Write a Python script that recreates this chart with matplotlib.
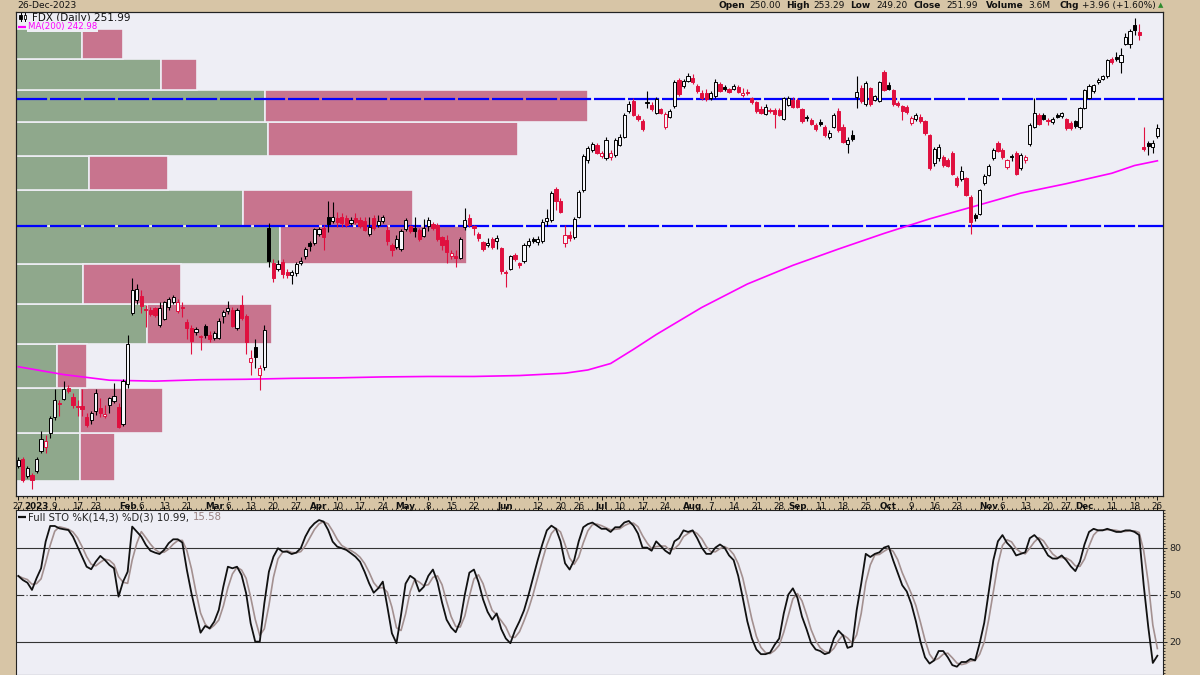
import numpy as np
import pandas as pd
import matplotlib
matplotlib.use('Agg')
import matplotlib.pyplot as plt
from matplotlib.patches import Rectangle
from matplotlib.ticker import FixedLocator, NullFormatter

# trading days shown (NYSE holidays removed)
holidays = ['2023-01-02', '2023-01-16', '2023-02-20', '2023-04-07', '2023-05-29',
            '2023-06-19', '2023-07-04', '2023-09-04', '2023-11-23', '2023-12-25']
days = pd.bdate_range('2022-12-27', '2023-12-26', freq='C', holidays=holidays)

opens = [172.4, 173.6, 170.4, 170.6, 171.4, 175.3, 176.0, 178.9, 182.0, 184.9,
         185.9, 188.2, 186.3, 184.3, 184.3, 182.0, 181.5, 183.3, 183.9, 182.3,
         184.6, 185.4, 184.2, 180.6, 189.0, 204.7, 207.8, 208.6, 205.6, 205.5,
         205.9, 202.0, 203.3, 206.0, 207.2, 205.2, 206.0, 202.6, 201.3, 200.3,
         199.4, 201.8, 199.8, 199.1, 199.1, 204.0, 205.1, 205.5, 201.3, 206.6,
         204.0, 193.7, 197.0, 190.9, 192.6, 225.3, 216.5, 215.0, 216.9, 214.4,
         213.7, 214.1, 216.5, 218.2, 221.4, 221.4, 223.8, 225.4, 228.2, 227.1,
         227.7, 228.1, 227.7, 226.5, 227.7, 227.3, 227.1, 223.8, 227.7, 226.1,
         227.1, 224.8, 221.1, 220.6, 220.0, 224.9, 225.7, 225.2, 224.8, 223.3,
         225.8, 226.3, 226.1, 223.0, 222.3, 218.2, 218.2, 217.8, 225.5, 227.7,
         225.7, 223.7, 221.7, 220.9, 222.5, 222.0, 220.2, 214.4, 215.1, 218.5,
         216.5, 217.0, 221.1, 222.4, 221.8, 222.1, 227.0, 227.3, 235.3, 232.1,
         221.5, 223.5, 223.0, 228.2, 235.0, 243.2, 246.0, 247.4, 244.3, 243.7,
         244.0, 244.6, 247.4, 249.6, 257.1, 259.8, 255.6, 254.1, 259.3, 258.8,
         256.5, 257.5, 252.3, 255.4, 258.4, 266.1, 264.3, 265.9, 266.6, 264.3,
         262.4, 262.2, 260.7, 261.3, 264.9, 263.9, 263.3, 263.3, 263.9, 261.7,
         262.6, 260.7, 259.5, 257.6, 256.2, 257.2, 257.3, 257.3, 254.8, 258.8,
         260.2, 260.2, 257.6, 255.0, 254.4, 253.0, 253.9, 252.5, 249.6, 252.5,
         257.1, 252.5, 247.7, 250.2, 261.0, 263.6, 258.9, 263.6, 260.3, 259.9,
         268.6, 264.6, 263.1, 259.3, 258.4, 258.3, 253.6, 254.6, 255.4, 254.1,
         250.1, 242.4, 243.8, 244.0, 243.3, 245.0, 238.2, 238.0, 238.2, 233.3,
         228.6, 228.9, 236.9, 239.2, 243.8, 247.8, 246.0, 241.3, 244.2, 245.2,
         241.0, 243.2, 247.5, 252.5, 255.8, 255.8, 254.2, 253.8, 255.9, 255.5,
         254.6, 253.6, 254.1, 252.4, 257.8, 260.9, 262.7, 265.4, 266.5, 267.2,
         272.6, 273.1, 271.6, 277.2, 277.2, 283.1, 281.0, 246.8, 247.9, 246.9,
         250.00]
highs = [174.0, 174.0, 172.4, 171.0, 174.0, 179.3, 178.5, 182.3, 187.9, 185.7,
         189.6, 188.8, 187.0, 185.7, 187.9, 183.0, 183.3, 187.9, 186.0, 184.5,
         186.3, 189.3, 185.0, 190.0, 199.6, 212.9, 211.6, 210.1, 206.6, 206.0,
         206.2, 207.3, 207.6, 208.5, 209.0, 208.0, 207.3, 203.4, 202.0, 201.5,
         199.8, 202.3, 200.5, 200.6, 203.5, 205.5, 207.4, 206.0, 205.8, 208.9,
         204.5, 196.4, 198.9, 193.0, 202.0, 226.5, 217.5, 217.4, 217.5, 215.0,
         214.8, 216.8, 218.0, 220.5, 222.0, 225.3, 225.5, 226.0, 232.2, 232.0,
         229.4, 229.0, 228.5, 228.0, 229.0, 228.0, 228.0, 228.0, 228.5, 228.5,
         228.6, 226.1, 221.5, 223.5, 225.0, 227.8, 226.0, 228.1, 225.2, 227.5,
         228.0, 226.8, 226.5, 223.3, 223.6, 219.8, 219.8, 223.0, 230.4, 228.8,
         226.1, 224.2, 222.0, 222.7, 223.0, 223.5, 220.5, 214.8, 218.6, 219.0,
         216.9, 221.5, 222.8, 223.0, 223.2, 227.5, 230.1, 234.8, 236.0, 233.0,
         226.1, 224.5, 228.0, 235.0, 244.8, 247.0, 248.2, 248.0, 245.8, 249.5,
         246.0, 249.3, 250.5, 256.5, 259.8, 260.8, 256.2, 254.8, 262.7, 259.5,
         261.0, 258.0, 256.8, 257.5, 266.0, 266.8, 266.5, 268.3, 267.8, 264.8,
         263.0, 263.5, 262.8, 266.5, 265.5, 264.5, 263.8, 264.8, 264.5, 263.8,
         263.5, 261.2, 260.0, 258.5, 259.0, 258.0, 257.8, 257.8, 261.2, 261.5,
         261.0, 260.8, 258.0, 255.8, 255.0, 253.5, 254.6, 253.0, 251.5, 256.5,
         257.8, 253.2, 249.5, 251.5, 267.2, 264.5, 265.8, 264.0, 261.8, 265.8,
         269.1, 265.5, 263.5, 259.8, 258.8, 258.8, 255.5, 256.3, 256.0, 254.5,
         250.5, 246.8, 247.5, 244.5, 243.8, 245.6, 238.8, 241.5, 238.6, 233.8,
         229.2, 235.5, 239.3, 242.0, 246.4, 248.5, 246.5, 243.6, 244.8, 245.8,
         245.0, 244.5, 253.5, 260.9, 256.3, 256.3, 255.0, 255.3, 256.5, 256.8,
         255.0, 254.0, 254.5, 258.2, 263.5, 264.8, 265.0, 266.6, 267.6, 272.5,
         273.0, 274.5, 276.0, 280.5, 282.0, 285.5, 283.5, 252.5, 248.5, 248.6,
         253.29]
lows = [172.0, 169.3, 170.0, 168.0, 171.0, 174.9, 174.8, 177.8, 181.5, 182.2,
        185.6, 187.0, 184.0, 182.2, 182.4, 180.0, 180.6, 182.6, 182.1, 181.8,
        183.0, 185.0, 179.8, 180.3, 188.2, 204.3, 206.7, 204.7, 201.6, 204.0,
        203.8, 201.6, 203.0, 205.5, 206.8, 204.8, 203.9, 198.7, 195.4, 199.8,
        196.4, 199.0, 198.2, 198.6, 198.8, 202.5, 204.5, 201.5, 200.8, 203.0,
        195.4, 190.9, 192.4, 187.8, 192.0, 215.5, 212.1, 214.6, 213.0, 213.0,
        211.5, 213.5, 216.0, 217.5, 219.5, 221.0, 223.3, 219.8, 224.2, 226.5,
        225.6, 225.6, 225.5, 226.0, 226.2, 225.2, 224.5, 223.3, 224.8, 225.5,
        226.5, 221.1, 218.2, 220.0, 219.5, 224.5, 224.0, 223.0, 222.0, 223.0,
        224.5, 224.8, 222.0, 219.8, 216.5, 217.5, 215.7, 217.5, 224.8, 225.5,
        223.6, 222.0, 219.5, 220.5, 220.0, 220.0, 214.0, 210.9, 214.8, 217.0,
        215.3, 216.5, 220.5, 221.5, 221.0, 221.5, 225.8, 226.8, 230.0, 229.0,
        220.6, 222.0, 222.5, 227.8, 234.5, 242.5, 245.5, 244.8, 243.8, 243.3,
        243.2, 244.0, 247.0, 249.2, 256.5, 255.5, 254.0, 251.2, 257.8, 257.0,
        256.0, 256.0, 251.8, 255.0, 258.0, 261.5, 263.8, 265.5, 265.0, 262.2,
        260.2, 260.0, 260.3, 260.8, 262.5, 262.8, 262.2, 263.0, 262.2, 261.2,
        261.8, 259.0, 256.5, 256.0, 255.8, 256.5, 252.0, 255.5, 254.3, 258.5,
        257.8, 257.8, 253.5, 254.0, 253.0, 251.2, 252.8, 249.6, 249.0, 252.0,
        251.0, 247.8, 245.0, 248.5, 257.8, 259.2, 258.5, 258.5, 259.8, 259.5,
        262.8, 263.0, 258.5, 258.2, 254.4, 256.2, 253.0, 254.2, 253.6, 250.2,
        240.6, 241.5, 243.0, 241.2, 241.2, 239.0, 236.0, 237.5, 233.5, 223.8,
        227.0, 228.5, 236.5, 238.8, 243.2, 245.3, 243.5, 240.8, 243.0, 239.0,
        240.5, 242.5, 247.0, 252.0, 253.0, 254.3, 253.0, 253.3, 255.0, 255.0,
        251.6, 251.5, 252.0, 251.8, 257.5, 260.5, 262.2, 265.0, 266.0, 266.8,
        271.0, 272.0, 268.2, 276.8, 276.0, 280.0, 278.5, 245.8, 244.6, 245.0,
        249.20]
closes = [173.4, 169.6, 172.0, 169.7, 173.7, 177.6, 177.3, 181.9, 185.6, 184.7,
          187.9, 187.5, 184.5, 184.1, 183.8, 180.4, 183.0, 187.0, 182.9, 182.8,
          186.0, 186.4, 180.1, 189.6, 197.6, 210.1, 210.3, 206.3, 205.4, 204.5,
          204.3, 205.9, 207.2, 208.0, 208.5, 207.3, 205.9, 201.3, 198.3, 201.1,
          199.2, 199.8, 198.7, 200.2, 202.8, 204.9, 205.9, 201.8, 205.3, 203.6,
          198.1, 194.5, 194.8, 192.4, 200.9, 217.0, 212.9, 216.3, 213.8, 213.6,
          214.3, 216.3, 217.0, 219.9, 220.8, 224.9, 225.1, 223.0, 226.4, 228.2,
          226.8, 226.6, 226.1, 227.4, 226.8, 225.8, 224.8, 225.6, 225.2, 227.0,
          228.2, 221.9, 219.8, 222.5, 224.4, 227.2, 224.5, 224.6, 222.5, 225.4,
          227.3, 225.2, 222.6, 221.1, 219.2, 219.0, 217.8, 222.5, 227.2, 226.1,
          225.2, 222.7, 220.0, 221.5, 220.5, 222.7, 214.6, 214.2, 218.2, 217.5,
          216.1, 221.1, 222.0, 222.1, 222.6, 226.9, 227.8, 234.2, 232.3, 229.5,
          223.6, 222.8, 227.5, 234.5, 244.3, 246.5, 247.7, 245.1, 245.0, 248.8,
          245.1, 248.8, 249.6, 255.9, 259.0, 255.9, 254.6, 251.8, 259.5, 257.5,
          260.5, 256.5, 256.1, 257.0, 265.4, 262.1, 265.9, 267.3, 265.4, 262.7,
          260.7, 260.5, 262.2, 265.4, 262.9, 263.3, 262.6, 264.3, 262.6, 262.4,
          262.2, 259.5, 256.9, 256.4, 258.2, 257.0, 256.2, 255.9, 260.7, 260.9,
          258.3, 258.2, 254.0, 254.9, 253.4, 251.8, 253.3, 250.2, 250.8, 255.9,
          251.6, 248.3, 248.8, 249.0, 262.5, 259.9, 265.2, 258.9, 261.3, 265.4,
          263.1, 263.4, 258.9, 258.6, 257.1, 256.7, 255.1, 255.8, 254.1, 250.7,
          241.1, 246.2, 246.9, 241.8, 241.6, 239.4, 236.4, 240.2, 233.9, 226.7,
          227.9, 235.0, 238.8, 241.6, 246.0, 245.8, 244.0, 243.2, 244.0, 239.4,
          244.5, 244.0, 253.0, 256.4, 253.4, 254.8, 254.1, 254.8, 255.4, 256.3,
          252.2, 252.1, 252.7, 257.8, 263.1, 264.4, 264.6, 266.2, 267.2, 272.1,
          271.6, 272.4, 273.6, 279.4, 281.3, 281.5, 280.0, 246.2, 247.1, 248.03,
          251.99]

# 200-day moving average
ma_idx = [0, 10, 20, 30, 40, 50, 60, 70, 80, 90, 100, 110, 120, 125, 130, 135,
          140, 150, 160, 170, 180, 190, 200, 210, 220, 230, 240, 245, 250]
ma_vals = [192.7, 191.0, 189.8, 189.6, 189.9, 190.0, 190.2, 190.3, 190.5, 190.6,
           190.6, 190.8, 191.3, 192.0, 193.4, 196.5, 199.8, 206.0, 211.5, 216.0,
           220.0, 223.9, 227.6, 230.9, 234.3, 236.8, 239.6, 241.7, 242.98]

# volume by price zones (millions of shares)
vbp_edges = [169.5, 178.9, 188.2, 197.6, 206.9, 216.3, 225.7, 235.0, 244.4, 253.7,
             263.1, 272.5, 281.8]
vbp_up = [6.4, 6.4, 4.1, 13.1, 6.7, 26.4, 22.7, 7.3, 25.2, 24.9, 14.5, 6.6]
vbp_down = [3.5, 8.3, 3.0, 12.5, 9.8, 18.7, 17.0, 7.9, 25.0, 32.3, 3.6, 4.1]

support_levels = [225.8, 260.6]

# Full stochastic %K(14,3)
sto_k = [61.9, 59.3, 57.6, 53.0, 60.4, 66.8, 83.8, 93.8, 93.8, 92.3,
         91.7, 91.2, 87.0, 80.6, 74.2, 67.8, 66.2, 71.0, 74.7, 72.1,
         68.9, 66.8, 48.7, 58.3, 64.6, 93.4, 90.2, 87.0, 81.7, 78.0,
         76.8, 75.9, 78.5, 82.8, 85.3, 85.3, 83.2, 65.7, 50.9, 38.1,
         25.7, 30.0, 28.5, 32.7, 40.2, 55.1, 67.8, 66.8, 67.8, 62.5,
         50.9, 31.7, 20.0, 20.0, 44.5, 64.6, 74.2, 79.6, 77.4, 77.4,
         75.9, 76.8, 79.6, 87.0, 92.3, 95.5, 97.6, 96.6, 91.3, 83.8,
         80.6, 79.6, 78.5, 76.4, 74.2, 71.0, 64.6, 57.2, 51.2, 54.0,
         58.3, 42.3, 25.3, 19.0, 37.0, 57.0, 62.0, 60.0, 52.0, 55.0,
         62.0, 66.0, 58.0, 45.0, 34.0, 29.0, 26.0, 33.0, 50.0, 64.0,
         66.0, 58.0, 47.0, 39.0, 34.0, 38.0, 28.0, 22.0, 19.0, 27.0,
         33.0, 40.0, 50.0, 61.0, 72.0, 82.0, 91.0, 94.0, 92.0, 84.0,
         70.0, 66.0, 72.0, 84.0, 93.0, 95.0, 96.0, 94.0, 92.0, 92.0,
         90.0, 93.0, 93.0, 96.0, 97.0, 94.0, 89.0, 80.0, 80.0, 78.0,
         84.0, 81.0, 78.0, 76.0, 84.0, 86.0, 91.0, 90.0, 91.0, 86.0,
         80.0, 76.0, 76.0, 80.0, 82.0, 80.0, 75.0, 72.0, 62.0, 48.0,
         33.0, 22.0, 15.0, 12.0, 12.0, 13.0, 18.0, 22.0, 38.0, 50.0,
         54.0, 48.0, 36.0, 28.0, 19.0, 15.0, 14.0, 12.0, 13.0, 22.0,
         27.0, 24.0, 16.0, 17.0, 40.0, 57.0, 76.0, 74.0, 76.0, 77.0,
         80.0, 81.0, 72.0, 64.0, 56.0, 52.0, 44.0, 33.0, 20.0, 10.0,
         6.0, 8.0, 14.0, 14.0, 10.0, 5.0, 4.0, 7.0, 7.0, 9.0,
         8.0, 19.0, 32.0, 52.0, 72.0, 84.0, 88.0, 83.0, 80.0, 75.0,
         76.0, 77.0, 86.0, 88.0, 85.0, 80.0, 75.0, 73.0, 73.0, 75.0,
         72.0, 68.0, 65.0, 71.0, 82.0, 90.0, 92.0, 91.0, 91.0, 92.0,
         91.0, 90.0, 90.0, 91.0, 91.0, 90.0, 88.0, 56.0, 29.35, 6.4,
         10.99]

tick_dates = ['2022-12-27', '2023-01-03', '2023-01-09', '2023-01-17', '2023-01-23',
              '2023-02-01', '2023-02-06', '2023-02-13', '2023-02-21', '2023-03-01',
              '2023-03-06', '2023-03-13', '2023-03-20', '2023-03-27', '2023-04-03',
              '2023-04-10', '2023-04-17', '2023-04-24', '2023-05-01', '2023-05-08',
              '2023-05-15', '2023-05-22', '2023-06-01', '2023-06-12', '2023-06-20',
              '2023-06-26', '2023-07-03', '2023-07-10', '2023-07-17', '2023-07-24',
              '2023-08-01', '2023-08-07', '2023-08-14', '2023-08-21', '2023-08-28',
              '2023-09-01', '2023-09-11', '2023-09-18', '2023-09-25', '2023-10-02',
              '2023-10-09', '2023-10-16', '2023-10-23', '2023-11-01', '2023-11-06',
              '2023-11-13', '2023-11-20', '2023-11-27', '2023-12-01', '2023-12-11',
              '2023-12-18', '2023-12-26']
tick_labels = ['27', '2023', '9', '17', '23', 'Feb', '6', '13', '21', 'Mar',
               '6', '13', '20', '27', 'Apr', '10', '17', '24', 'May', '8',
               '15', '22', 'Jun', '12', '20', '26', 'Jul', '10', '17', '24',
               'Aug', '7', '14', '21', '28', 'Sep', '11', '18', '25', 'Oct',
               '9', '16', '23', 'Nov', '6', '13', '20', '27', 'Dec', '11',
               '18', '26']

# ---- colours ----
TAN = '#d7c5a6'
BG = '#eeeef5'
RED = '#e0103f'
GREEN_V = '#8fa88c'
RED_V = '#c8748e'

W, H = 1200, 675
fig = plt.figure(figsize=(12, 6.75), dpi=100, facecolor=TAN)

def box(x0, y0, x1, y1):
    return [x0 / W, 1 - y1 / H, (x1 - x0) / W, (y1 - y0) / H]

ax_v = fig.add_axes(box(15.7, 12.3, 1163.3, 496))
ax = ax_v.twiny()
ax.set_zorder(ax_v.get_zorder() + 1)
ax.patch.set_visible(False)
ax_v.set_facecolor(BG)

o = np.array(opens); h = np.array(highs); l = np.array(lows); c = np.array(closes)
x = np.arange(len(c))
prev = np.concatenate([[o[0]], c[:-1]])
edge = np.where(c >= prev, 'black', RED)
fill = np.where(c < o, edge, '#f7f7fb')

ax.set_yscale('log')
ax_v.set_yscale('log')

# volume by price
edges = np.array(vbp_edges)
ax_v.barh(edges[:-1], vbp_up, height=np.diff(edges), align='edge', left=0,
          color=GREEN_V, edgecolor=BG, linewidth=1.2)
ax_v.barh(edges[:-1], vbp_down, height=np.diff(edges), align='edge', left=vbp_up,
          color=RED_V, edgecolor=BG, linewidth=1.2)
ax_v.set_xlim(0, 114.76)

for lvl in support_levels:
    ax.axhline(lvl, color='#0000ff', lw=1.6, ls=(0, (14, 1.3)), zorder=1)

ax.plot(ma_idx, ma_vals, color='#ff00ff', lw=1.2, zorder=2)

ax.vlines(x, l, h, colors=edge, lw=0.8, zorder=3)
body = np.maximum(np.abs(c - o), 0.3)
ax.bar(x, body, bottom=np.minimum(o, c), width=0.7, color=fill,
       edgecolor=edge, linewidth=0.7, zorder=4)

ax.set_xlim(-0.57, 251.3)
ylo, yhi = 166.6, 287.2
ax.set_ylim(ylo, yhi)
ax_v.set_ylim(ylo, yhi)

# axes cosmetics
for a in (ax, ax_v):
    for s in a.spines.values():
        s.set_color('#222222')
        s.set_linewidth(0.8)
ax_v.tick_params(left=False, labelleft=False, bottom=False, labelbottom=False,
                 right=False, which='both')
ax_v.yaxis.set_major_locator(FixedLocator([]))
ax_v.yaxis.set_minor_locator(FixedLocator([]))
ax_v.set_xticks([])

ax.yaxis.tick_right()
yt = list(range(170, 290, 5))
ax.yaxis.set_major_locator(FixedLocator(yt))
ax.yaxis.set_major_formatter(plt.FixedFormatter([str(v) for v in yt]))
ax.yaxis.set_minor_locator(FixedLocator(list(range(167, 288))))
ax.yaxis.set_minor_formatter(NullFormatter())
ax.tick_params(axis='y', which='major', direction='out', length=3, width=0.7,
               pad=1.5, labelsize=6.8, colors='#222222')
ax.tick_params(axis='y', which='minor', direction='out', length=1.5, width=0.6)

tick_idx = [days.get_loc(pd.Timestamp(d)) for d in tick_dates]
ax.xaxis.set_ticks_position('bottom')
ax.set_xticks(tick_idx)
ax.set_xticklabels(tick_labels)
ax.xaxis.set_minor_locator(FixedLocator(list(x)))
ax.tick_params(axis='x', which='major', direction='out', length=3, width=0.7,
               pad=1.0, labelsize=6.3, colors='#111111')
ax.tick_params(axis='x', which='minor', direction='out', length=1.5, width=0.5)
for t in ax.get_xticklabels():
    if not t.get_text().isdigit() or t.get_text() == '2023':
        t.set_fontweight('bold')

# legend in main panel (small candle icon, symbol line, MA line)
def afrac(px, py):
    return (px - 15.7) / 1147.6, 1 - (py - 12.3) / 483.7

for cx, filled in ((20.5, True), (25.0, False)):
    fx0, fy0 = afrac(cx, 13.0)
    _, fy1 = afrac(cx, 21.0)
    ax.plot([fx0, fx0], [fy1, fy0], transform=ax.transAxes, color='black', lw=0.7)
    bx, by = afrac(cx - 1.3, 19.2)
    ax.add_patch(Rectangle((bx, by), 2.6 / 1147.6, 4.6 / 483.7, transform=ax.transAxes,
                           facecolor='black' if filled else 'white', edgecolor='black',
                           lw=0.6, zorder=6))
ax.text(0.014, 0.989, f'FDX (Daily) {closes[-1]:.2f}', transform=ax.transAxes,
        fontsize=7.5, va='center', ha='left', color='#111111')
ax.plot([0.0022, 0.0092], [0.9705, 0.9705], transform=ax.transAxes, color='#ff00ff',
        lw=1.6, solid_capstyle='butt')
ax.text(0.011, 0.9705, f'MA(200) {ma_vals[-1]:.2f}', transform=ax.transAxes,
        fontsize=6.2, va='center', ha='left', color='#ff00ff',
        bbox=dict(facecolor=BG, edgecolor='none', pad=0.6), zorder=7)

# stochastic panel
k = pd.Series(sto_k)
d = k.rolling(3, min_periods=1).mean()
ax2 = fig.add_axes(box(15.7, 510, 1163.3, 675))
ax2.set_facecolor(BG)
for lvl, ls in ((80, '-'), (50, (0, (7, 2, 1, 2))), (20, '-')):
    ax2.axhline(lvl, color='#333333', lw=0.8, ls=ls, zorder=1)
ax2.plot(x, d, color='#a39090', lw=1.2, zorder=2)
ax2.plot(x, k, color='#111111', lw=1.3, zorder=3)
ax2.set_xlim(-0.57, 251.3)
ax2.set_ylim(-1.3, 104.0)
for s in ax2.spines.values():
    s.set_color('#222222')
    s.set_linewidth(0.8)
ax2.yaxis.tick_right()
ax2.set_yticks([20, 50, 80])
ax2.yaxis.set_minor_locator(FixedLocator(list(range(0, 105, 2))))
ax2.tick_params(axis='y', which='major', direction='out', length=3, width=0.7,
                pad=1.5, labelsize=6.8, colors='#222222')
ax2.tick_params(axis='y', which='minor', direction='out', length=1.5, width=0.5)
ax2.xaxis.set_ticks_position('top')
ax2.set_xticks(tick_idx)
ax2.set_xticklabels([])
ax2.xaxis.set_minor_locator(FixedLocator(list(x)))
ax2.tick_params(axis='x', which='major', direction='out', length=3, width=0.7)
ax2.tick_params(axis='x', which='minor', direction='out', length=1.5, width=0.5)

ax2.plot([0.0022, 0.0092], [0.955, 0.955], transform=ax2.transAxes, color='#111111',
         lw=1.6, solid_capstyle='butt')
t1 = ax2.text(0.011, 0.955, 'Full STO %K(14,3) %D(3) ' + f'{k.iloc[-1]:.2f}, ',
              transform=ax2.transAxes, fontsize=7.3, va='center', ha='left', color='#222222')
ax2.annotate(f'{d.iloc[-1]:.2f}', xycoords=t1, xy=(1, 0.5), va='center', ha='left',
             fontsize=7.3, color='#9a8282')

# header
fig.text(17 / W, 1 - 5.5 / H, days[-1].strftime('%d-%b-%Y'), fontsize=6.6,
         va='center', ha='left', color='#111111')
chg = closes[-1] - closes[-2]
pieces = [(718, 'Open', True), (749, f'{opens[-1]:.2f}', False),
          (786, 'High', True), (813, f'{highs[-1]:.2f}', False),
          (850, 'Low', True), (876, f'{lows[-1]:.2f}', False),
          (914, 'Close', True), (946, f'{closes[-1]:.2f}', False),
          (986, 'Volume', True), (1028, '3.6M', False),
          (1059, 'Chg', True), (1082, f'{chg:+.2f} ({chg / closes[-2] * 100:+.2f}%)', False)]
for px, txt, bold in pieces:
    fig.text(px / W, 1 - 5.5 / H, txt, fontsize=6.5, va='center', ha='left',
             fontweight='bold' if bold else 'normal', color='#111111')
fig.text(1158 / W, 1 - 5.5 / H, '\u25b2', fontsize=5, va='center', ha='left', color='#2e8b2e')

fig.savefig('out.png', dpi=100, facecolor=TAN)
